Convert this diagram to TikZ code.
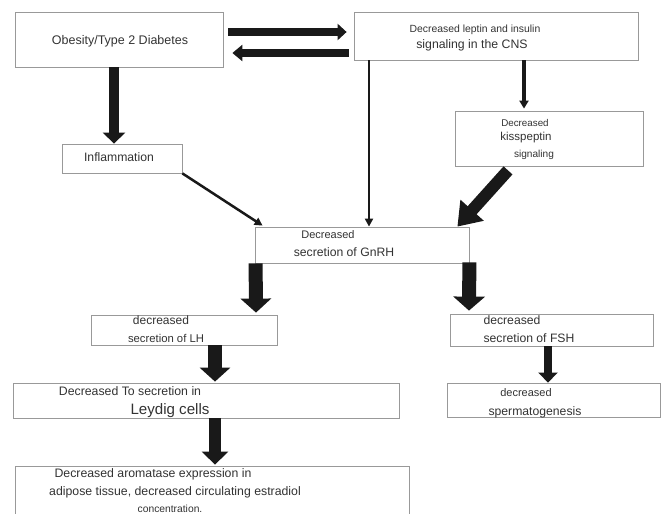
\documentclass[tikz,border=0pt]{standalone}
\usepackage{fontspec}
\setmainfont{Liberation Sans}
\usetikzlibrary{calc,arrows.meta}
\tikzset{
  box/.style={draw=black!40, line width=0.8pt, inner sep=0pt},
  txt/.style={inner sep=0pt, anchor=mid, yshift=-1.5pt, text=black!80, font=\fontsize{#1}{#1}\selectfont},
  blk/.style n args={3}{draw=black!90, line width=#1, -{Triangle[width=#2, length=#3]}}
}
\begin{document}
\begin{tikzpicture}[x=1pt,y=-1pt]
\clip (0,0) rectangle (662,514);
\fill[white] (0,0) rectangle (662,514);
\node[box,minimum width=208,minimum height=55](obes)at(119,39.5){};
\node[box,minimum width=284,minimum height=48](lept)at(496,36){};
\node[box,minimum width=188,minimum height=55](kiss)at(549,138.5){};
\node[box,minimum width=120,minimum height=29](infl)at(122,158.5){};
\node[box,minimum width=214,minimum height=36](gnrh)at(362,245){};
\node[box,minimum width=186,minimum height=30](lh)at(184,330){};
\node[box,minimum width=203,minimum height=32](fsh)at(551.5,330){};
\node[box,minimum width=386,minimum height=35](leyd)at(206,400.5){};
\node[box,minimum width=213,minimum height=34](sperm)at(553.5,400){};
\node[box,minimum width=394,minimum height=64](arom)at(212,498){};
\node[txt=12.5](obes1)at(120,40){Obesity/Type 2 Diabetes};
\node[txt=10.4](lept1)at(475,28){Decreased leptin and insulin};
\node[txt=12.3](lept2)at(472,44){signaling in the CNS};
\node[txt=9.8](kiss1)at(525,122){Decreased};
\node[txt=11.5](kiss2)at(526,136){kisspeptin};
\node[txt=10.1](kiss3)at(534,153){signaling};
\node[txt=12.2](infl1)at(119,157){Inflammation};
\node[txt=11](gnrh1)at(328,234){Decreased};
\node[txt=12.2](gnrh2)at(344,252){secretion of GnRH};
\node[txt=12](lh1)at(161,320){decreased};
\node[txt=11.3](lh2)at(166,338){secretion of LH};
\node[txt=12.2](fsh1)at(512,320){decreased};
\node[txt=12.2](fsh2)at(529,338){secretion of FSH};
\node[txt=12.3](leyd1)at(130,391){Decreased To secretion in};
\node[txt=15.1](leyd2)at(170,410){Leydig cells};
\node[txt=11](sperm1)at(526,392){decreased};
\node[txt=12.2](sperm2)at(535,411){spermatogenesis};
\node[txt=12.3](arom1)at(153,473){Decreased aromatase expression in};
\node[txt=12.3](arom2)at(175,491){adipose tissue, decreased circulating estradiol};
\node[txt=10.3](arom3)at(170,508){concentration.};
\draw[blk={8}{16pt}{9pt}] ($(obes.east)+(5,-7.5)$) -- ($(lept.west)+(-7,-4)$);
\draw[blk={8}{16pt}{10pt}] ($(lept.west)+(-5,17)$) -- ($(obes.east)+(9,13.5)$);
\draw[blk={10}{22pt}{11pt}] ($(obes.south)+(-5,0)$) -- ($(infl.north)+(-8,0)$);
\draw[blk={3.5}{9pt}{8pt}] ($(lept.south)+(28,0)$) -- ($(kiss.north)+(-25,-2)$);
\draw[blk={2.5}{8pt}{8pt}] ($(lept.south)+(-127,0)$) -- ($(gnrh.north)+(7,0)$);
\draw[blk={2.5}{8pt}{8pt}] (infl.south east) -- ($(gnrh.north west)+(8,-1)$);
\draw[blk={12}{30pt}{22pt}] ($(kiss.south)+(-41,4)$) -- ($(gnrh.north east)+(-12,0)$);
\draw[blk={14}{30pt}{14pt}] ($(gnrh.south west)+(1,0)$) -- ($(lh.north)+(72,-2)$);
\draw[blk={14}{31pt}{14pt}] ($(gnrh.south east)+(0,-1)$) -- ($(fsh.north)+(-82.5,-3)$);
\draw[blk={14}{30pt}{14pt}] ($(lh.south)+(31,0)$) -- ($(leyd.north)+(9,-1)$);
\draw[blk={8}{19pt}{10pt}] ($(fsh.south)+(-3.5,0)$) -- ($(sperm.north)+(-5.5,0)$);
\draw[blk={12}{26pt}{13pt}] ($(leyd.south)+(9,0)$) -- ($(arom.north)+(3,-1)$);
\end{tikzpicture}
\end{document}
